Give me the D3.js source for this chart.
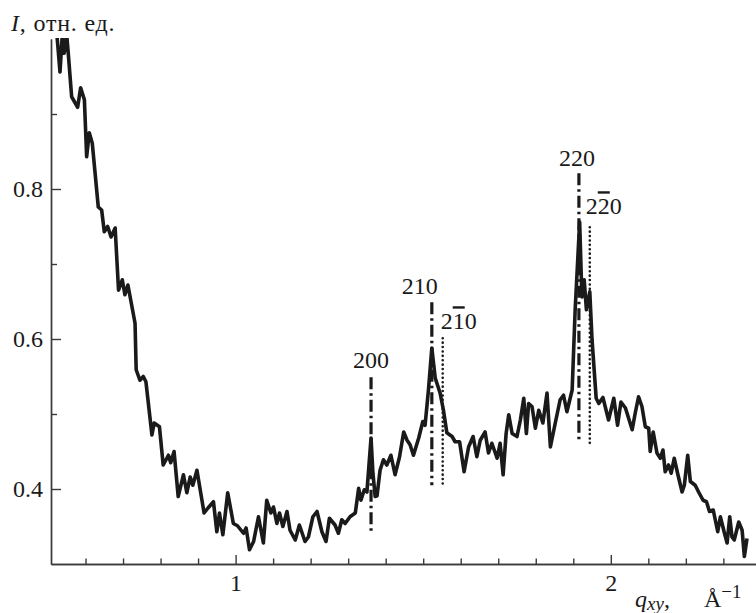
<!DOCTYPE html>
<html><head><meta charset="utf-8">
<script src="https://cdn.jsdelivr.net/npm/d3@7/dist/d3.min.js"></script>
<style>
body{margin:0;background:#fff}
svg{display:block}
svg text{font-family:"Liberation Serif","Times New Roman",serif !important;fill:#1a1a1a}
</style>
</head><body>
<svg id="chart" width="756" height="613"></svg>
<script>
// ---- data ----
const qValues = [0.523,0.532,0.538,0.543,0.550,0.554,0.563,0.579,0.587,0.597,0.603,0.610,0.618,0.634,0.643,0.650,0.659,0.668,0.679,0.688,
0.698,0.705,0.713,0.732,0.735,0.745,0.754,0.761,0.777,0.783,0.797,0.807,0.821,0.827,0.836,0.847,0.861,0.870,0.879,0.886,
0.897,0.916,0.927,0.941,0.950,0.957,0.966,0.979,0.994,1.005,1.021,1.028,1.037,1.048,1.061,1.074,1.083,1.094,1.101,1.110,
1.117,1.126,1.137,1.145,1.159,1.170,1.185,1.194,1.206,1.217,1.230,1.241,1.250,1.265,1.274,1.283,1.292,1.305,1.319,1.328,
1.334,1.343,1.350,1.361,1.366,1.372,1.377,1.385,1.394,1.403,1.414,1.425,1.437,1.448,1.457,1.465,1.474,1.488,1.499,1.505,
1.514,1.523,1.532,1.545,1.554,1.563,1.577,1.585,1.597,1.609,1.621,1.633,1.643,1.652,1.665,1.674,1.683,1.697,1.705,1.713,
1.721,1.728,1.737,1.750,1.759,1.768,1.775,1.781,1.790,1.799,1.808,1.819,1.830,1.839,1.852,1.865,1.874,1.883,1.897,1.905,
1.917,1.923,1.929,1.935,1.944,1.950,1.961,1.968,1.979,1.994,2.008,2.018,2.027,2.039,2.057,2.065,2.074,2.083,2.092,2.101,
2.105,2.113,2.123,2.132,2.139,2.145,2.154,2.161,2.169,2.178,2.190,2.196,2.205,2.212,2.225,2.234,2.246,2.255,2.263,2.273,
2.285,2.292,2.303,2.310,2.317,2.323,2.329,2.341,2.350,2.356,2.363];
const intensity = [1.010,0.956,1.005,0.981,1.005,0.981,0.923,0.909,0.935,0.919,0.843,0.875,0.861,0.776,0.772,0.743,0.750,0.736,0.748,0.665,
0.679,0.659,0.672,0.621,0.559,0.545,0.550,0.543,0.472,0.488,0.483,0.432,0.445,0.435,0.450,0.390,0.419,0.395,0.416,0.405,
0.425,0.368,0.375,0.383,0.343,0.368,0.339,0.395,0.354,0.351,0.341,0.348,0.319,0.330,0.363,0.328,0.385,0.368,0.376,0.354,
0.368,0.350,0.370,0.345,0.332,0.352,0.330,0.336,0.363,0.370,0.343,0.330,0.361,0.352,0.341,0.359,0.354,0.363,0.368,0.401,
0.385,0.399,0.396,0.468,0.421,0.390,0.391,0.425,0.439,0.432,0.445,0.419,0.443,0.476,0.465,0.459,0.445,0.468,0.490,0.485,
0.532,0.588,0.548,0.528,0.505,0.475,0.470,0.463,0.463,0.423,0.456,0.470,0.443,0.465,0.476,0.448,0.461,0.441,0.461,0.419,
0.474,0.499,0.474,0.470,0.492,0.521,0.474,0.514,0.510,0.481,0.505,0.488,0.528,0.456,0.488,0.519,0.525,0.503,0.532,0.639,
0.756,0.656,0.679,0.639,0.663,0.599,0.521,0.514,0.522,0.492,0.521,0.485,0.516,0.508,0.479,0.501,0.523,0.510,0.483,0.481,
0.450,0.476,0.448,0.441,0.452,0.423,0.432,0.421,0.441,0.421,0.396,0.405,0.445,0.410,0.405,0.396,0.385,0.383,0.370,0.372,
0.343,0.363,0.341,0.328,0.363,0.336,0.332,0.356,0.345,0.310,0.334];

// peak labels: [plain part, barred digit, rest]
const peakLabels = [["200","",""], ["210","",""], ["2","1","0"], ["220","",""], ["2","2","0"]];
const peakQ      = [1.361, 1.523, 1.552, 1.915, 1.944];
const peakTop    = [0.549, 0.649, 0.601, 0.821, 0.749];
const peakBottom = [0.341, 0.405, 0.405, 0.463, 0.459];
const peakKind   = ["dashdot", "dashdot", "dot", "dashdot", "dot"];

const yTickValues = [0.4, 0.6, 0.8];
const yMinorTicks = [0.5, 0.7, 0.9];
const xTickValues = [1, 2];
const xMinorTicks = [0.6,0.7,0.8,0.9,1.1,1.2,1.3,1.4,1.5,1.6,1.7,1.8,1.9,2.1,2.2,2.3];

// ---- layout ----
const svg = d3.select("#chart");
const mLeft = 51, mRight = 756, mTop = 39, mBottom = 564;
const x = d3.scaleLinear().domain([0.508, 2.387]).range([mLeft, mRight]);
const y = d3.scaleLinear().domain([0.3, 1.0]).range([mBottom, mTop]);
const axisColor = "#3a3a3a";
const fontSize = 24;
const serif = '"Liberation Serif", "Times New Roman", serif';

svg.append("defs").append("clipPath").attr("id", "plotclip")
  .append("rect").attr("x", mLeft).attr("y", mTop - 1).attr("width", mRight - mLeft).attr("height", mBottom - mTop + 1);

const yMinor = svg.append("g").attr("transform", `translate(${mLeft},0)`)
  .call(d3.axisLeft(y).tickValues(yMinorTicks).tickSize(-6).tickSizeOuter(0).tickFormat(""));
const xMinor = svg.append("g").attr("transform", `translate(0,${mBottom})`)
  .call(d3.axisBottom(x).tickValues(xMinorTicks).tickSize(-5.5).tickSizeOuter(0).tickFormat(""));

const yAxis = svg.append("g").attr("transform", `translate(${mLeft},0)`)
  .call(d3.axisLeft(y).tickValues(yTickValues).tickSize(-10).tickSizeOuter(0).tickPadding(8).tickFormat(d3.format(".1f")));
const xAxis = svg.append("g").attr("transform", `translate(0,${mBottom})`)
  .call(d3.axisBottom(x).tickValues(xTickValues).tickSize(-9).tickSizeOuter(0).tickPadding(10).tickFormat(d3.format("d")));

[yMinor, xMinor, yAxis, xAxis].forEach(g => {
  g.attr("font-family", serif).attr("font-size", fontSize);
  g.selectAll("path, line").attr("stroke", axisColor).attr("stroke-width", 1.4);
  g.selectAll("text").style("font-family", serif).style("font-size", fontSize + "px").attr("fill", "#1a1a1a");
});

const data = qValues.map((q, i) => ({q, v: intensity[i]}));
svg.append("path")
  .datum(data)
  .attr("clip-path", "url(#plotclip)")
  .attr("fill", "none")
  .attr("stroke", "#1a1a1a")
  .attr("stroke-width", 3.6)
  .attr("stroke-linejoin", "round")
  .attr("d", d3.line().x(d => x(d.q)).y(d => y(d.v)));

const peaks = peakQ.map((q, i) => ({q, t: peakTop[i], b: peakBottom[i], kind: peakKind[i], label: peakLabels[i]}));
const vline = d3.line().x(d => x(d[0])).y(d => y(d[1]));
svg.selectAll("path.peak").data(peaks).join("path")
  .attr("class", "peak")
  .attr("fill", "none")
  .attr("stroke", "#1a1a1a")
  .attr("d", d => vline([[d.q, d.t], [d.q, d.b]]))
  .attr("stroke-width", d => d.kind === "dot" ? 2.6 : 3.2)
  .attr("stroke-linecap", d => d.kind === "dot" ? "round" : "butt")
  .attr("stroke-dasharray", d => d.kind === "dot" ? "0 4.4" : "12 4 2.5 4");

const labelOffsets = [
  {dx: 0, dy: -9, anchor: "middle"},
  {dx: -12, dy: -8, anchor: "middle"},
  {dx: -2, dy: -9, anchor: "start"},
  {dx: -2, dy: -7, anchor: "middle"},
  {dx: -4, dy: -13, anchor: "start"}
];
const labs = svg.selectAll("text.peak").data(peaks).join("text")
  .attr("class", "peak")
  .style("font-family", serif)
  .style("font-size", fontSize + "px")
  .attr("x", (d, i) => x(d.q) + labelOffsets[i].dx)
  .attr("y", (d, i) => y(d.t) + labelOffsets[i].dy)
  .attr("text-anchor", (d, i) => labelOffsets[i].anchor);
labs.each(function(d) {
  const t = d3.select(this);
  t.append("tspan").text(d.label[0]);
  if (d.label[1]) {
    t.append("tspan").style("text-decoration", "overline").text(d.label[1]);
    t.append("tspan").text(d.label[2]);
  }
});

const yTitle = svg.append("text").attr("x", 11).attr("y", 31)
  .style("font-size", fontSize + "px").style("letter-spacing", "0.8px");
yTitle.append("tspan").attr("font-style", "italic").text("I");
yTitle.append("tspan").text(", отн. ед.");

const xTitle = svg.append("text").attr("x", 635).attr("y", 607).style("font-size", fontSize + "px");
xTitle.append("tspan").attr("font-style", "italic").text("q");
xTitle.append("tspan").attr("font-style", "italic").style("font-size", "19px").attr("dy", 3).text("xy");
xTitle.append("tspan").attr("dy", -3).text(",");
xTitle.append("tspan").attr("x", 704).text("Å");
xTitle.append("tspan").style("font-size", "19px").attr("dy", -9).text("−1");
</script>
</body></html>
